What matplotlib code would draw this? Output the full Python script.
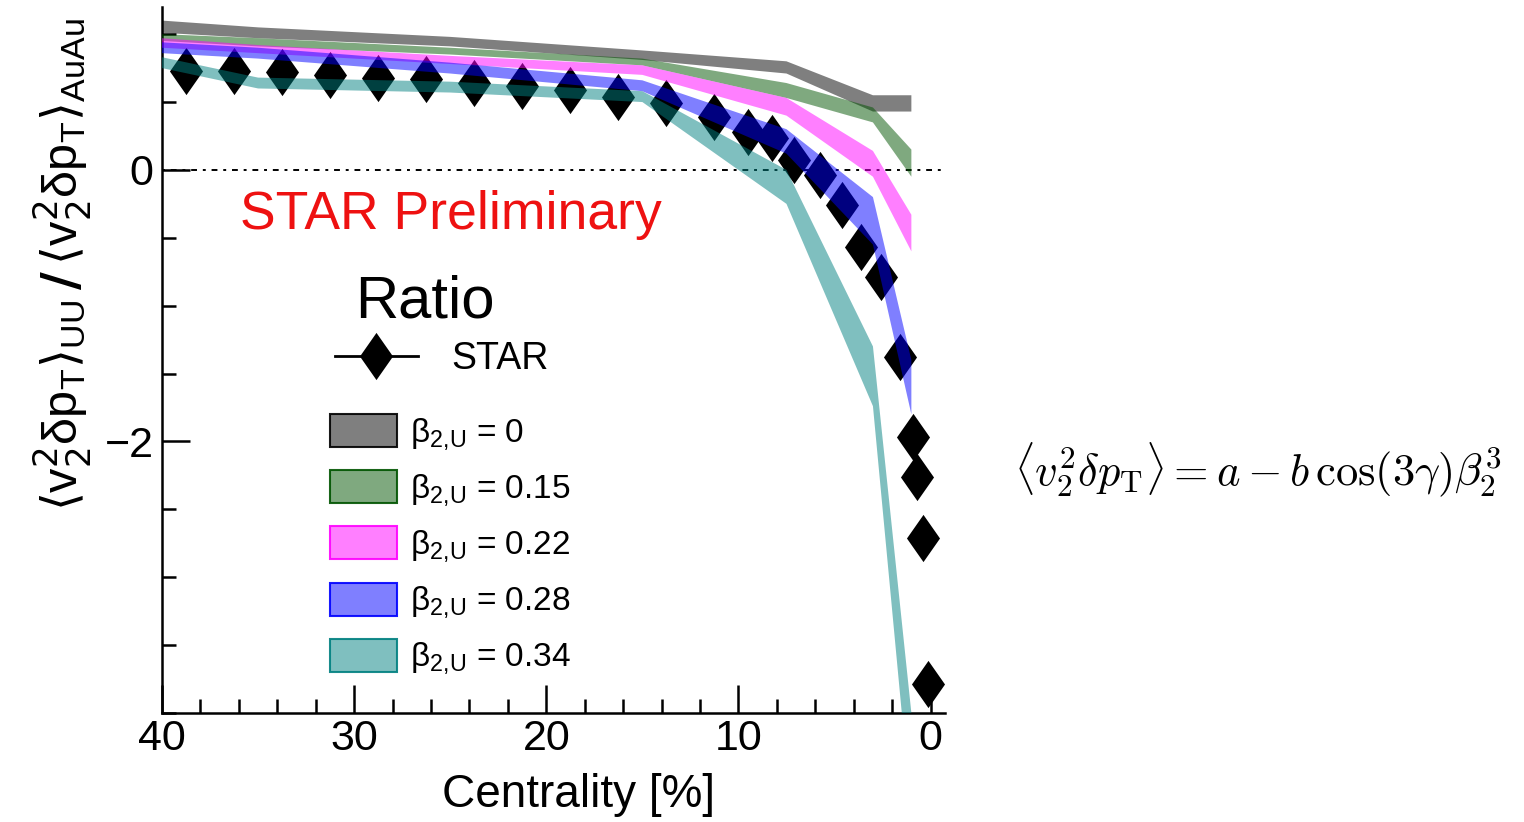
import matplotlib.pyplot as plt
from matplotlib.lines import Line2D
from matplotlib.patches import Patch
from matplotlib.ticker import MultipleLocator, FixedLocator

plt.rcParams['font.family'] = ['Liberation Sans', 'DejaVu Sans']
plt.rcParams['mathtext.fontset'] = 'dejavusans'

# STAR measured ratio UU / AuAu vs centrality
star_cent = [38.75, 36.25, 33.75, 31.25, 28.75, 26.25, 23.75, 21.25, 18.75, 16.25,
             13.75, 11.25, 9.5, 8.25, 7.1, 5.75, 4.6, 3.6, 2.6, 1.6, 0.9, 0.7, 0.4, 0.15]
star_ratio = [0.73, 0.73, 0.72, 0.70, 0.68, 0.67, 0.64, 0.62, 0.59, 0.54,
              0.49, 0.39, 0.28, 0.235, 0.07, -0.04, -0.26, -0.57, -0.79, -1.38,
              -1.97, -2.26, -2.71, -3.79]

# model bands (upper / lower edge) for several beta_2,U
model_cent = [40, 35, 25, 15, 7.5, 3, 1]
gray_hi = [1.10, 1.05, 0.98, 0.88, 0.80, 0.55, 0.55]
gray_lo = [1.01, 0.97, 0.91, 0.81, 0.71, 0.43, 0.43]
green_hi = [1.00, 0.97, 0.90, 0.82, 0.64, 0.46, 0.15]
green_lo = [0.95, 0.91, 0.85, 0.77, 0.53, 0.35, -0.05]
pink_hi = [0.97, 0.92, 0.84, 0.77, 0.53, 0.14, -0.33]
pink_lo = [0.90, 0.86, 0.78, 0.70, 0.40, -0.05, -0.60]
blue_hi = [0.94, 0.90, 0.79, 0.66, 0.30, -0.20, -1.40]
blue_lo = [0.86, 0.82, 0.71, 0.58, 0.12, -0.55, -1.80]
teal_hi = [0.83, 0.68, 0.65, 0.58, 0.00, -1.30, -4.00]
teal_lo = [0.75, 0.60, 0.57, 0.50, -0.25, -1.74, -4.75]

beta_labels = ['0', '0.15', '0.22', '0.28', '0.34']
band_colors = [(0, 0, 0), (0.0, 0.33, 0.0), (1, 0, 1), (0, 0, 1), (0, 0.5, 0.5)]
bands = [(gray_hi, gray_lo), (green_hi, green_lo), (pink_hi, pink_lo),
         (blue_hi, blue_lo), (teal_hi, teal_lo)]

diamond = [(0, 1), (0.7, 0), (0, -1), (-0.7, 0), (0, 1)]

fig = plt.figure(figsize=(15.24, 8.22), dpi=100)
ax = fig.add_axes([162 / 1524, 1 - 713 / 822, 783 / 1524, 706 / 822])

# data points first, bands drawn over them
ax.plot(star_cent, star_ratio, linestyle='none', marker=diamond, ms=34,
        color='k', mec='none', zorder=2)

for (hi, lo), c in zip(bands, band_colors):
    ax.fill_between(model_cent, lo, hi, facecolor=c, alpha=0.5, lw=0, zorder=3)

ax.axhline(0, color='k', lw=1.4, ls=(0, (1.5, 3, 3, 3)), zorder=1)

ax.set_xlim(40, -0.75)
ax.set_ylim(-4.0, 1.2)
ax.xaxis.set_major_locator(MultipleLocator(10))
ax.xaxis.set_minor_locator(MultipleLocator(2))
ax.yaxis.set_major_locator(FixedLocator([-2, 0]))
ax.yaxis.set_minor_locator(MultipleLocator(0.5))
ax.tick_params(which='both', direction='in', width=1.8, labelsize=31)
ax.tick_params(which='major', length=20)
ax.tick_params(which='minor', length=10)
ax.tick_params(axis='x', pad=4)
ax.tick_params(axis='y', pad=6)
for s in ['top', 'right']:
    ax.spines[s].set_visible(False)
for s in ['left', 'bottom']:
    ax.spines[s].set_linewidth(1.8)

fig.text(578 / 1524, 1 - 795 / 822, 'Centrality [%]', fontsize=33,
         ha='center', va='center')

fig.text(63 / 1524, 1 - 265 / 822,
         r'$\langle\mathregular{v}_2^2\mathregular{\delta p}_\mathregular{T}\rangle_\mathregular{UU}$'
         r'$\,\mathbf{/}\,$'
         r'$\langle\mathregular{v}_2^2\mathregular{\delta p}_\mathregular{T}\rangle_\mathregular{AuAu}$',
         rotation=90, ha='center', va='center', fontsize=35)

ax.text(0.369, 0.706, 'STAR Preliminary', transform=ax.transAxes,
        color='#ee1111', fontsize=38.5, ha='center', va='center')

# legend: header, STAR entry, model bands
ax.text((355 - 162) / 783, (713 - 302) / 706, 'Ratio', transform=ax.transAxes,
        fontsize=43, ha='left', va='center')

star_handle = Line2D([], [], color='k', lw=2, marker=diamond, ms=34, mec='none')
leg1 = ax.legend([star_handle], ['STAR'], loc='center left',
                 bbox_to_anchor=((335 - 162) / 783, (713 - 359) / 706),
                 frameon=False, fontsize=27, handlelength=2.2, handletextpad=0.9,
                 borderpad=0, borderaxespad=0)
ax.add_artist(leg1)

band_handles = [Patch(facecolor=(*c, 0.5), edgecolor=(*c, 0.9), lw=1.5)
                for c in band_colors]
band_texts = [r'$\mathregular{\beta}_{\mathregular{2{,}U}}$ = ' + b for b in beta_labels]
ax.legend(band_handles, band_texts, loc='upper left',
          bbox_to_anchor=((330 - 162) / 783, (713 - 414) / 706),
          frameon=False, fontsize=24, handlelength=2.0, handleheight=1.15,
          handletextpad=0.4, labelspacing=0.53, borderpad=0, borderaxespad=0)

fig.text(1258 / 1524, 1 - 470 / 822,
         r'$\langle v_2^2 \delta p_{\mathrm{T}} \rangle = a - b\,\cos(3\gamma)\beta_2^3$',
         math_fontfamily='cm', fontsize=32, ha='center', va='center')

fig.savefig('out.png', dpi=100)
